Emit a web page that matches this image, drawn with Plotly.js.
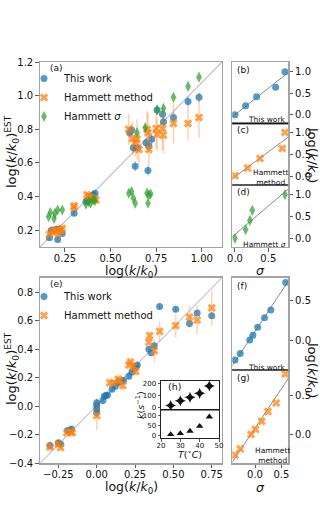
<!DOCTYPE html>
<html><head><meta charset="utf-8">
<script src="https://cdn.plot.ly/plotly-3.0.1.min.js"></script>
<style>html,body{margin:0;padding:0;background:#fff}#chart{width:320px;height:520px}</style>
</head><body><div id="chart"></div>
<script>
// ---------------- data ----------------
// Panel (a): estimated vs measured log(k/k0)
const aWorkX = [0.165,0.175,0.185,0.195,0.205,0.21,0.22,0.235,0.30,0.365,0.375,0.385,0.395,0.405,0.415,0.605,0.615,0.625,0.635,0.648,0.695,0.705,0.71,0.725,0.755,0.785,0.79,0.845,0.925,0.985];
const aWorkY = [0.155,0.20,0.20,0.20,0.205,0.145,0.205,0.18,0.30,0.37,0.38,0.39,0.40,0.41,0.42,0.78,0.795,0.69,0.58,0.69,0.72,0.555,0.70,0.74,0.915,0.89,0.845,0.87,0.965,0.99];
const aWorkErr = [0.015,0.015,0.015,0.015,0.015,0.015,0.015,0.015,0.015,0.015,0.015,0.015,0.015,0.015,0.015,0.03,0.03,0.03,0.03,0.03,0.03,0.03,0.03,0.03,0.03,0.03,0.03,0.03,0.03,0.03];
const aHamX = [0.165,0.18,0.195,0.205,0.215,0.225,0.235,0.30,0.30,0.37,0.38,0.39,0.40,0.41,0.42,0.60,0.62,0.635,0.645,0.655,0.70,0.705,0.71,0.75,0.755,0.785,0.79,0.845,0.925,0.985];
const aHamY = [0.175,0.195,0.20,0.19,0.18,0.20,0.21,0.345,0.335,0.41,0.40,0.395,0.39,0.385,0.38,0.80,0.745,0.72,0.74,0.68,0.80,0.78,0.68,0.805,0.77,0.805,0.765,0.835,0.835,0.87];
const aHamErr = [0.02,0.02,0.02,0.02,0.02,0.02,0.03,0.02,0.02,0.02,0.02,0.02,0.02,0.02,0.02,0.09,0.10,0.08,0.12,0.09,0.11,0.12,0.10,0.12,0.10,0.13,0.11,0.12,0.10,0.12];
const aSigX = [0.16,0.17,0.19,0.195,0.21,0.235,0.365,0.38,0.39,0.405,0.415,0.60,0.615,0.625,0.635,0.70,0.705,0.71,0.72,0.645,0.69,0.755,0.79,0.845,0.925,0.985];
const aSigY = [0.28,0.305,0.27,0.30,0.32,0.32,0.355,0.37,0.36,0.38,0.375,0.42,0.43,0.39,0.36,0.42,0.36,0.41,0.415,0.78,0.81,0.915,0.925,0.99,1.055,1.11];

// Panels (b), (c), (d): log(k/k0) vs sigma
const bSigma = [0,0.16,0.325,0.61,0.75];
const bLogK  = [0,0.21,0.42,0.64,1.0];
const cSigma = [0,0.19,0.375,0.71,0.75];
const cLogK  = [0.015,0.19,0.41,0.64,1.01];
const dSigma = [0,0.16,0.225,0.26,0.75];
const dLogK  = [0,0.2,0.41,0.64,1.0];

// Panel (e)
const eWorkX = [-0.305,-0.25,-0.235,-0.19,-0.165,0,0,0,0,0.04,0.05,0.06,0.07,0.10,0.12,0.14,0.16,0.175,0.21,0.23,0.25,0.255,0.265,0.34,0.355,0.375,0.41,0.515,0.605,0.655,0.75];
const eWorkY = [-0.276,-0.255,-0.267,-0.17,-0.16,0.025,0.005,-0.02,-0.045,0.04,0.07,0.075,0.08,0.12,0.14,0.165,0.175,0.18,0.21,0.24,0.27,0.28,0.29,0.40,0.375,0.425,0.70,0.68,0.58,0.655,0.635];
const eWorkErr = [0.02,0.02,0.02,0.02,0.02,0.03,0.03,0.03,0.03,0.02,0.02,0.02,0.02,0.02,0.02,0.02,0.02,0.02,0.02,0.02,0.02,0.02,0.02,0.02,0.02,0.02,0.02,0.02,0.02,0.02,0.02];
const eHamX = [-0.305,-0.25,-0.235,-0.195,-0.17,-0.16,0,0.085,0.11,0.14,0.15,0.17,0.21,0.22,0.24,0.255,0.34,0.345,0.375,0.41,0.515,0.605,0.655,0.75];
const eHamY = [-0.285,-0.265,-0.29,-0.185,-0.18,-0.185,-0.065,0.165,0.165,0.19,0.18,0.145,0.29,0.31,0.28,0.245,0.45,0.495,0.39,0.525,0.565,0.625,0.605,0.69];
const eHamErr = [0.04,0.02,0.02,0.02,0.02,0.02,0.10,0.03,0.02,0.03,0.02,0.03,0.04,0.03,0.03,0.03,0.03,0.03,0.08,0.07,0.08,0.08,0.10,0.12];

// Panels (f), (g)
const fSigma = [-0.38,-0.28,-0.10,-0.04,0.05,0.18,0.30,0.58];
const fLogK  = [-0.25,-0.17,0,0.06,0.16,0.28,0.375,0.72];
const gSigma = [-0.38,-0.28,-0.075,0.01,0.126,0.245,0.40,0.57];
const gLogK  = [-0.263,-0.185,0,0.064,0.165,0.29,0.40,0.77];

// Inset (h): rate constant vs temperature
const hT = [25,30,35,40,45];
const hTop = [17,57,85,118,178];
const hBottom = [5,10,22,47,95];

// tick labels
const aXTicks = [0.25,0.5,0.75,1.0];
const aYTicks = [0.2,0.4,0.6,0.8,1.0,1.2];
const eXTicks = [-0.25,0,0.25,0.5,0.75];
const eYTicks = [-0.4,-0.2,0,0.2,0.4,0.6,0.8];
const bdYTicks = [0,0.5,1.0];
const bdXTicks = [0,0.5];
const fgYTicks = [0,0.5];
const fgXTicks = [0,0.5];
const hXTicks = [20,30,40,50];
const hTopTicks = [0,100,200];
const hBotTicks = [0,50,100];

// ---------------- layout helpers ----------------
const W = 320, H = 520;
const fx = p => p / W;
const fy = p => 1 - p / H;
const FONT = 'DejaVu Sans';
const BLUE = 'rgba(31,119,180,0.75)', ORANGE = 'rgba(255,127,14,0.72)', GREEN = 'rgba(44,160,44,0.72)';
const BLUE_E = 'rgba(31,119,180,0.45)', ORANGE_E = 'rgba(255,127,14,0.35)';

const rangeA = {x:[0.113,1.111], y:[0.1,1.2]};
const rangeE = {x:[-0.37,0.817], y:[-0.4,0.902]};
const rangeBD = {x:[-0.04,0.8], y:[-0.2,1.22]};
const rangeF = {x:[-0.43,0.63], y:[-0.375,0.78]};
const rangeG = {x:[-0.43,0.63], y:[-0.37,0.82]};

const axBase = {showgrid:false, zeroline:false, showline:true, mirror:true, linecolor:'#a3a3a3', linewidth:1.3,
  ticks:'outside', ticklen:3.5, tickwidth:0.8, tickcolor:'#333',
  tickfont:{family:FONT, size:10, color:'#111'}, fixedrange:true, automargin:false};
const mk = o => Object.assign({}, axBase, o);

function fit(xs, ys, xr){
  const n = xs.length;
  const mx = xs.reduce((a,b)=>a+b,0)/n, my = ys.reduce((a,b)=>a+b,0)/n;
  let sxy=0, sxx=0;
  for(let i=0;i<n;i++){ sxy += (xs[i]-mx)*(ys[i]-my); sxx += (xs[i]-mx)*(xs[i]-mx); }
  const b = sxy/sxx, a = my - b*mx;
  return {x: xr, y: xr.map(v => a + b*v)};
}

const mBlue = {color:BLUE, size:7, symbol:'circle'};
const mOrange = {color:ORANGE, size:7.5, symbol:'x'};
const mGreen = {color:GREEN, size:8, symbol:'diamond-tall'};

const traces = [];
// (a)
traces.push({type:'scatter', mode:'markers', x:aWorkX, y:aWorkY, xaxis:'x', yaxis:'y', name:'This work', legend:'legend',
  marker:mBlue, error_y:{type:'data', array:aWorkErr, color:BLUE_E, thickness:1.3, width:0}});
traces.push({type:'scatter', mode:'markers', x:aHamX, y:aHamY, xaxis:'x', yaxis:'y', name:'Hammett method', legend:'legend',
  marker:mOrange, error_y:{type:'data', array:aHamErr, color:ORANGE_E, thickness:1.5, width:0}});
traces.push({type:'scatter', mode:'markers', x:aSigX, y:aSigY, xaxis:'x', yaxis:'y', name:'Hammett <i>σ</i>', legend:'legend',
  marker:mGreen});
// (b)(c)(d)
const fb = fit(bSigma, bLogK, rangeBD.x), fc = fit(cSigma, cLogK, rangeBD.x), fd = fit(dSigma, dLogK, rangeBD.x);
const lineStyle = {color:'#8c8c8c', width:1};
traces.push({type:'scatter', mode:'lines', x:fb.x, y:fb.y, xaxis:'x2', yaxis:'y2', line:lineStyle, showlegend:false});
traces.push({type:'scatter', mode:'markers', x:bSigma, y:bLogK, xaxis:'x2', yaxis:'y2', marker:mBlue, showlegend:false});
traces.push({type:'scatter', mode:'lines', x:fc.x, y:fc.y, xaxis:'x3', yaxis:'y3', line:lineStyle, showlegend:false});
traces.push({type:'scatter', mode:'markers', x:cSigma, y:cLogK, xaxis:'x3', yaxis:'y3', marker:mOrange, showlegend:false});
traces.push({type:'scatter', mode:'lines', x:fd.x, y:fd.y, xaxis:'x4', yaxis:'y4', line:lineStyle, showlegend:false});
traces.push({type:'scatter', mode:'markers', x:dSigma, y:dLogK, xaxis:'x4', yaxis:'y4', marker:mGreen, showlegend:false});
// (e)
traces.push({type:'scatter', mode:'markers', x:eWorkX, y:eWorkY, xaxis:'x5', yaxis:'y5', name:'This work', legend:'legend2',
  marker:mBlue, error_y:{type:'data', array:eWorkErr, color:BLUE_E, thickness:1.3, width:0}});
traces.push({type:'scatter', mode:'markers', x:eHamX, y:eHamY, xaxis:'x5', yaxis:'y5', name:'Hammett method', legend:'legend2',
  marker:mOrange, error_y:{type:'data', array:eHamErr, color:ORANGE_E, thickness:1.5, width:0}});
// (f)(g)
const ff = fit(fSigma, fLogK, rangeF.x), fg = fit(gSigma, gLogK, rangeG.x);
traces.push({type:'scatter', mode:'lines', x:ff.x, y:ff.y, xaxis:'x6', yaxis:'y6', line:lineStyle, showlegend:false});
traces.push({type:'scatter', mode:'markers', x:fSigma, y:fLogK, xaxis:'x6', yaxis:'y6', marker:mBlue, showlegend:false});
traces.push({type:'scatter', mode:'lines', x:fg.x, y:fg.y, xaxis:'x7', yaxis:'y7', line:lineStyle, showlegend:false});
traces.push({type:'scatter', mode:'markers', x:gSigma, y:gLogK, xaxis:'x7', yaxis:'y7', marker:mOrange, showlegend:false});
// (h) inset
traces.push({type:'scatter', mode:'markers', x:hT, y:hTop, xaxis:'x8', yaxis:'y8', marker:{color:'#111', size:8, symbol:'star-diamond'}, showlegend:false});
traces.push({type:'scatter', mode:'markers', x:hT, y:hBottom, xaxis:'x9', yaxis:'y9', marker:{color:'#111', size:6.5, symbol:'triangle-up'}, showlegend:false});

const insetAx = {linecolor:'#222', linewidth:1, tickfont:{family:FONT, size:7, color:'#111'}, ticklen:2.5};

const legendStyle = {xanchor:'left', yanchor:'top', bgcolor:'rgba(0,0,0,0)', font:{family:FONT, size:10, color:'#111'}, itemsizing:'trace', tracegroupgap:0, borderwidth:0};

const layout = {
  width:W, height:H, margin:{l:0,r:0,t:0,b:0}, paper_bgcolor:'#fff', plot_bgcolor:'#fff',
  font:{family:FONT, color:'#111'},
  xaxis: mk({domain:[fx(40),fx(222)], range:rangeA.x, anchor:'y', tickvals:aXTicks, tickformat:'.2f', ticklabelstandoff:-2}),
  yaxis: mk({domain:[fy(247),fy(62)], range:rangeA.y, anchor:'x', tickvals:aYTicks, tickformat:'.1f'}),
  xaxis2: mk({domain:[fx(232.3),fx(288.3)], range:rangeBD.x, anchor:'y2', ticks:'', showticklabels:false}),
  yaxis2: mk({domain:[fy(123.3),fy(62.3)], range:rangeBD.y, anchor:'x2', side:'right', tickvals:bdYTicks, tickformat:'.1f'}),
  xaxis3: mk({domain:[fx(232.3),fx(288.3)], range:rangeBD.x, anchor:'y3', ticks:'', showticklabels:false}),
  yaxis3: mk({domain:[fy(185),fy(123.3)], range:rangeBD.y, anchor:'x3', side:'right', tickvals:bdYTicks, tickformat:'.1f'}),
  xaxis4: mk({domain:[fx(232.3),fx(288.3)], range:rangeBD.x, anchor:'y4', tickvals:bdXTicks, tickformat:'.1f', ticklabelstandoff:-2}),
  yaxis4: mk({domain:[fy(247),fy(185)], range:rangeBD.y, anchor:'x4', side:'right', tickvals:bdYTicks, tickformat:'.1f'}),
  xaxis5: mk({domain:[fx(40),fx(222)], range:rangeE.x, anchor:'y5', tickvals:eXTicks, tickformat:'.2f', ticklabelstandoff:-2}),
  yaxis5: mk({domain:[fy(463.3),fy(277.7)], range:rangeE.y, anchor:'x5', tickvals:eYTicks, tickformat:'.1f'}),
  xaxis6: mk({domain:[fx(232.3),fx(288.3)], range:rangeF.x, anchor:'y6', ticks:'', showticklabels:false}),
  yaxis6: mk({domain:[fy(370),fy(277.7)], range:rangeF.y, anchor:'x6', side:'right', tickvals:fgYTicks, tickformat:'.1f'}),
  xaxis7: mk({domain:[fx(232.3),fx(288.3)], range:rangeG.x, anchor:'y7', tickvals:fgXTicks, tickformat:'.1f', ticklabelstandoff:-2}),
  yaxis7: mk({domain:[fy(463.3),fy(370)], range:rangeG.y, anchor:'x7', side:'right', tickvals:fgYTicks, tickformat:'.1f'}),
  xaxis8: mk(Object.assign({domain:[fx(161),fx(219)], range:[20,50], anchor:'y8', ticks:'', showticklabels:false}, insetAx)),
  yaxis8: mk(Object.assign({domain:[fy(410),fy(381)], range:[-19,219], anchor:'x8', tickvals:hTopTicks}, insetAx)),
  xaxis9: mk(Object.assign({domain:[fx(161),fx(219)], range:[20,50], anchor:'y9', tickvals:hXTicks, ticklabelstandoff:-2}, insetAx)),
  yaxis9: mk(Object.assign({domain:[fy(438.3),fy(410)], range:[-15,130], anchor:'x9', tickvals:hBotTicks}, insetAx)),
  showlegend:true,
  legend: Object.assign({x:fx(24), y:fy(64)}, legendStyle),
  legend2: Object.assign({x:fx(24), y:fy(282)}, legendStyle),
  shapes:[
    {type:'line', xref:'x domain', yref:'y domain', x0:0, y0:0, x1:1, y1:1, line:{color:'#c4c4c4', width:1.1}, layer:'below'},
    {type:'line', xref:'x5 domain', yref:'y5 domain', x0:0, y0:0, x1:1, y1:1, line:{color:'#c4c4c4', width:1.1}, layer:'below'},
    {type:'line', xref:'x3 domain', yref:'y3 domain', x0:0, y0:1, x1:1, y1:1, line:{color:'#111', width:1.2}},
    {type:'line', xref:'x4 domain', yref:'y4 domain', x0:0, y0:1, x1:1, y1:1, line:{color:'#111', width:1.2}},
    {type:'line', xref:'x7 domain', yref:'y7 domain', x0:0, y0:1, x1:1, y1:1, line:{color:'#111', width:1.2}},
    {type:'line', xref:'x9 domain', yref:'y9 domain', x0:0, y0:1, x1:1, y1:1, line:{color:'#111', width:1}}
  ],
  annotations:[]
};

function ann(text, x, y, o){
  layout.annotations.push(Object.assign({text, x:fx(x), y:fy(y), xref:'paper', yref:'paper', showarrow:false,
    xanchor:'center', yanchor:'middle', font:{family:FONT, size:13, color:'#111'}}, o||{}));
}
const LOGK = 'log(<i>k</i>/<i>k</i><sub>0</sub>)';
// axis titles
ann(LOGK, 131, 271, {font:{family:FONT, size:12.5, color:'#111'}});
ann(LOGK, 131, 487, {font:{family:FONT, size:12.5, color:'#111'}});
ann(LOGK + '<sup>EST</sup>', 12, 152, {textangle:-90});
ann(LOGK + '<sup>EST</sup>', 12, 369, {textangle:-90});
ann(LOGK, 312, 155, {textangle:90});
ann(LOGK, 312, 370, {textangle:90});
ann('<i>σ</i>', 260, 270, {font:{family:FONT, size:12.5, color:'#111'}});
ann('<i>σ</i>', 260, 487, {font:{family:FONT, size:12.5, color:'#111'}});
ann('<i>k</i>(<i>s</i><sup>−1</sup>)', 140, 405, {textangle:-90, font:{family:FONT, size:9.5, color:'#111'}});
ann('<i>T</i>(<sup>∘</sup><i>C</i>)', 190, 454, {font:{family:FONT, size:9.5, color:'#111'}});
// panel labels
const small = {family:FONT, size:9, color:'#111'};
ann('(a)', 48, 68.5, {xanchor:'left', font:small});
ann('(b)', 235, 70, {xanchor:'left', font:small});
ann('(c)', 235, 130, {xanchor:'left', font:small});
ann('(d)', 235, 191.5, {xanchor:'left', font:small});
ann('(e)', 48, 283.5, {xanchor:'left', font:small});
ann('(f)', 235, 286, {xanchor:'left', font:small});
ann('(g)', 235, 378, {xanchor:'left', font:small});
ann('(h)', 166, 386, {xanchor:'left', font:{family:FONT, size:9.5, color:'#111'}});
// in-panel method labels
const tiny = {family:FONT, size:7.5, color:'#111'};
ann('This work', 288, 119.5, {xanchor:'right', font:tiny});
ann('Hammett<br>method', 270.5, 177.5, {font:tiny, align:'center'});
ann('Hammett <i>σ</i>', 288, 244, {xanchor:'right', font:tiny});
ann('This work', 288, 367, {xanchor:'right', font:tiny});
ann('Hammett<br>method', 272.5, 455, {font:tiny, align:'center'});

Plotly.newPlot('chart', traces, layout, {displayModeBar:false, staticPlot:true});
</script>
</body></html>
